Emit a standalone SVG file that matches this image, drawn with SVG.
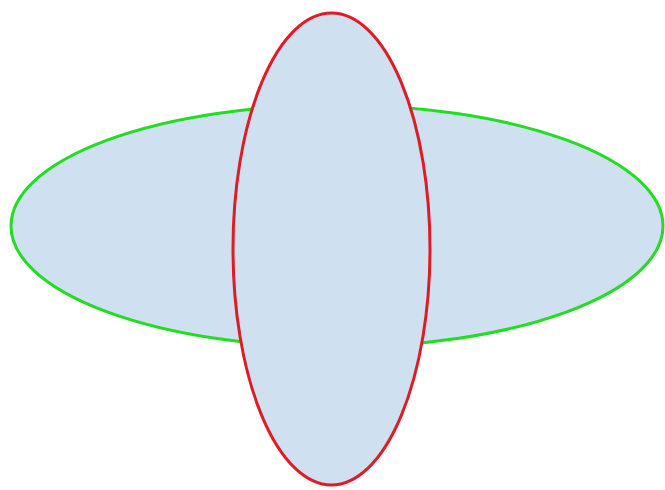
<svg xmlns="http://www.w3.org/2000/svg" width="665" height="490" viewBox="0 0 665 490">
<style>
.shape{fill:#cfe0f1;stroke-width:3}
</style>
<rect width="665" height="490" fill="#ffffff"/>
<g id="horizontal"><ellipse class="shape" cx="337" cy="226" rx="326" ry="121" stroke="#22dd22"/></g>
<g id="vertical"><ellipse class="shape" cx="331.5" cy="249" rx="98.5" ry="236" stroke="#dd1c24"/></g>
</svg>
